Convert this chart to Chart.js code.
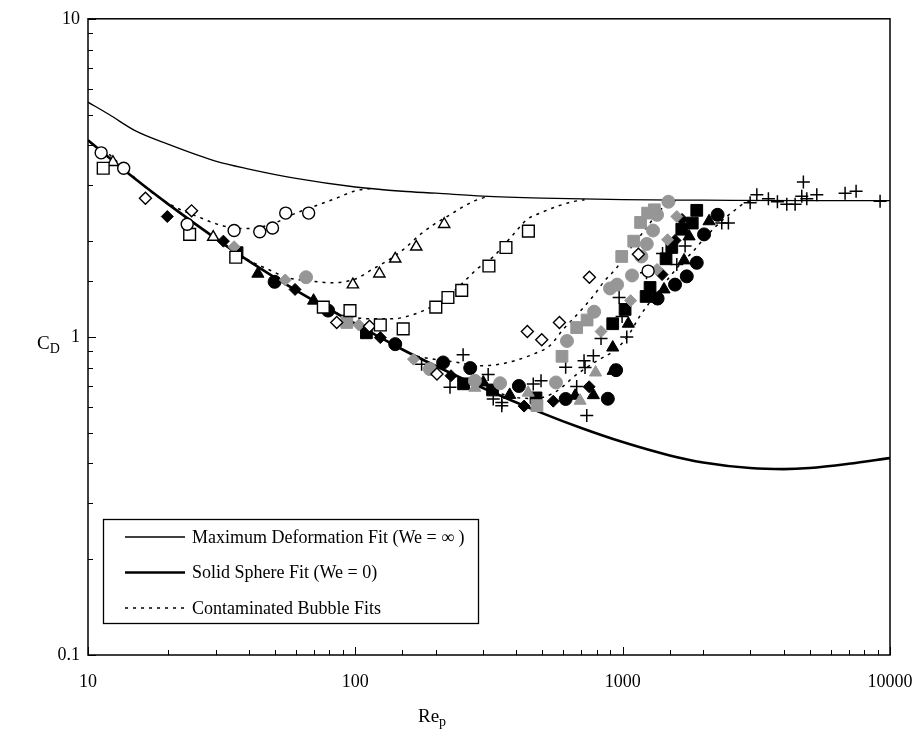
<!DOCTYPE html>
<html>
<head>
<meta charset="utf-8">
<title>Drag coefficient vs particle Reynolds number</title>
<script src="https://cdn.jsdelivr.net/npm/chart.js@4.4.0/dist/chart.umd.min.js"></script>
<style>
  html, body { margin: 0; padding: 0; background: #fff; }
  #wrap { width: 924px; height: 734px; }
</style>
</head>
<body>
<div id="wrap"><canvas id="cd" width="924" height="734"></canvas></div>
<script>
// values, [Re_p, C_D]
const openCircles = [[11.2,3.79],[13.6,3.39],[23.5,2.26],[35.2,2.16],[43.9,2.14],[49.0,2.20],[54.9,2.45],[66.9,2.45],[1245,1.61]];
const openSquares = [[11.4,3.39],[24.0,2.10],[35.7,1.78],[75.9,1.24],[95.5,1.21],[124,1.09],[151,1.06],[200,1.24],[222,1.33],[250,1.40],[316,1.67],[366,1.91],[444,2.15]];
const openTriangles = [[12.4,3.54],[29.4,2.06],[97.9,1.46],[123,1.58],[141,1.76],[169,1.92],[215,2.26]];
const openDiamonds = [[16.4,2.73],[24.4,2.49],[85.2,1.11],[113,1.08],[202,0.764],[440,1.04],[498,0.980],[580,1.11],[751,1.54],[1145,1.82]];
const blackDiamonds = [[19.8,2.39],[32.1,2.00],[59.5,1.41],[124,0.995],[228,0.755],[428,0.606],[550,0.628],[749,0.697],[1404,1.57],[1570,2.01],[1668,2.34]];
const grayDiamonds = [[35.2,1.92],[54.7,1.51],[103,1.09],[165,0.851],[830,1.04],[1071,1.30],[1345,1.63],[1472,2.02],[1594,2.39]];
const blackSquares = [[36.1,1.84],[110,1.03],[254,0.712],[326,0.681],[474,0.643],[918,1.10],[1021,1.22],[1224,1.34],[1266,1.43],[1453,1.76],[1527,1.91],[1664,2.18],[1821,2.28],[1893,2.50]];
const graySquares = [[92.9,1.11],[478,0.608],[593,0.869],[673,1.07],[736,1.13],[992,1.79],[1100,2.00],[1167,2.29],[1240,2.45],[1314,2.51]];
const blackCircles = [[49.9,1.49],[79.1,1.21],[141,0.949],[213,0.831],[269,0.798],[409,0.701],[612,0.638],[880,0.639],[945,0.786],[1351,1.32],[1570,1.46],[1737,1.55],[1893,1.71],[2016,2.10],[2265,2.42]];
const grayCircles = [[65.4,1.54],[190,0.792],[280,0.728],[348,0.715],[563,0.719],[619,0.971],[782,1.20],[897,1.42],[953,1.46],[1084,1.56],[1175,1.79],[1231,1.96],[1299,2.16],[1345,2.42],[1483,2.66]];
const blackTriangles = [[43.2,1.58],[69.8,1.30],[301,0.719],[378,0.657],[664,0.653],[777,0.656],[918,0.926],[921,0.782],[1050,1.10],[1428,1.41],[1697,1.74],[1772,2.07],[2105,2.31]];
const grayTriangles = [[280,0.692],[443,0.668],[693,0.630],[792,0.773]];
const crosses = [[177,0.821],[226,0.695],[253,0.878],[314,0.762],[328,0.638],[353,0.622],[353,0.608],[463,0.711],[495,0.728],[612,0.803],[717,0.841],[777,0.872],[723,0.801],[673,0.698],[734,0.566],[830,0.989],[1036,0.999],[995,1.16],[970,1.33],[1228,1.59],[1410,1.83],[1594,1.69],[1712,1.93],[2348,2.28],[2486,2.28],[2998,2.64],[3176,2.80],[3509,2.72],[3792,2.66],[4111,2.61],[4416,2.61],[4677,2.77],[4742,3.07],[4884,2.72],[5323,2.80],[6792,2.83],[7467,2.87],[9181,2.67]];

// fitted curves
const maxDeformation = [[10,5.47],[12,5.0],[15,4.45],[20,4.03],[30,3.57],[40,3.37],[60,3.15],[100,2.96],[150,2.87],[200,2.83],[300,2.77],[500,2.73],[1000,2.70],[2000,2.69],[5000,2.68],[10000,2.68]];
const solidSphere = [[10,4.15],[15,3.14],[20,2.61],[30,2.04],[40,1.73],[60,1.40],[100,1.10],[150,0.913],[200,0.81],[300,0.691],[500,0.576],[700,0.517],[1000,0.467],[1500,0.424],[2000,0.403],[3000,0.387],[4000,0.384],[5000,0.387],[7000,0.399],[10000,0.416]];
const bubbleFit1 = [[12,3.75],[15,3.16],[18,2.78],[22,2.52],[26,2.38],[30,2.27],[35,2.20],[40,2.19],[45,2.22],[50,2.28],[60,2.45],[70,2.57],[85,2.73],[100,2.88],[115,2.93]];
const bubbleFit2 = [[35,1.87],[40,1.74],[48,1.62],[55,1.54],[68,1.50],[80,1.48],[100,1.52],[117,1.64],[131,1.73],[151,1.88],[175,2.10],[197,2.26],[226,2.42],[254,2.57],[277,2.67],[310,2.76]];
const bubbleFit3 = [[70,1.30],[85,1.19],[100,1.15],[117,1.14],[139,1.14],[156,1.16],[180,1.21],[210,1.30],[235,1.40],[261,1.52],[284,1.63],[329,1.79],[390,2.10],[439,2.34],[491,2.45],[566,2.57],[650,2.66],[720,2.70]];
const bubbleFit4 = [[150,0.913],[165,0.877],[193,0.853],[242,0.831],[293,0.811],[348,0.821],[401,0.845],[463,0.883],[535,0.94],[601,1.06],[659,1.15],[722,1.25],[790,1.37],[850,1.49],[950,1.65],[1050,1.86],[1160,2.07],[1280,2.31],[1380,2.50],[1480,2.63],[1600,2.69]];
const bubbleFit5 = [[330,0.672],[400,0.645],[470,0.64],[540,0.66],[600,0.70],[650,0.745],[715,0.79],[800,0.84],[920,0.90],[1000,0.96],[1065,1.03],[1150,1.15],[1250,1.27],[1360,1.39],[1505,1.55],[1650,1.70],[1815,1.84],[1980,2.00],[2200,2.20],[2420,2.37],[2640,2.51],[2805,2.61],[3050,2.68]];

const legendLabels = ['Maximum Deformation Fit (We = \u221E )', 'Solid Sphere Fit (We = 0)', 'Contaminated Bubble Fits'];
const xTickLabels = [10, 100, 1000, 10000];
const yTickLabels = [0.1, 1, 10];

const FONT = "'Liberation Serif', 'Times New Roman', serif";
const GRAY = '#969696';
const DOTS = [3, 5];

const pts = arr => arr.map(([x, y]) => ({ x, y }));

function markers(label, data, style, radius, fill, stroke, bw) {
    return {
        label, data: pts(data), order: 1,
        pointStyle: style, pointRadius: radius,
        backgroundColor: fill, borderColor: stroke, borderWidth: bw
    };
}

function curve(label, data, width, dash) {
    return {
        label, data: pts(data), order: 2, showLine: true,
        pointRadius: 0, borderColor: '#000', borderWidth: width,
        borderDash: dash, cubicInterpolationMode: 'monotone', fill: false
    };
}

const datasets = [
    markers('open circles', openCircles, 'circle', 6, '#fff', '#000', 1.4),
    markers('open squares', openSquares, 'rect', 8.3, '#fff', '#000', 1.4),
    markers('open triangles', openTriangles, 'triangle', 6.5, '#fff', '#000', 1.4),
    markers('open diamonds', openDiamonds, 'rectRot', 6, '#fff', '#000', 1.4),
    markers('gray diamonds', grayDiamonds, 'rectRot', 6, GRAY, GRAY, 1),
    markers('gray squares', graySquares, 'rect', 8.3, GRAY, GRAY, 1),
    markers('gray circles', grayCircles, 'circle', 6.5, GRAY, GRAY, 1),
    markers('gray triangles', grayTriangles, 'triangle', 7, GRAY, GRAY, 1),
    markers('black diamonds', blackDiamonds, 'rectRot', 6, '#000', '#000', 1),
    markers('black squares', blackSquares, 'rect', 8.3, '#000', '#000', 1),
    markers('black circles', blackCircles, 'circle', 6.5, '#000', '#000', 1),
    markers('black triangles', blackTriangles, 'triangle', 7, '#000', '#000', 1),
    markers('crosses', crosses, 'cross', 6.5, '#000', '#000', 1.5),
    curve(legendLabels[0], maxDeformation, 1.3, []),
    curve(legendLabels[1], solidSphere, 2.6, []),
    curve(legendLabels[2], bubbleFit1, 1.5, DOTS),
    curve(legendLabels[2], bubbleFit2, 1.5, DOTS),
    curve(legendLabels[2], bubbleFit3, 1.5, DOTS),
    curve(legendLabels[2], bubbleFit4, 1.5, DOTS),
    curve(legendLabels[2], bubbleFit5, 1.5, DOTS)
];

const isDecade = v => Math.abs(Math.log10(v) - Math.round(Math.log10(v))) < 1e-9;

// box around the plot, inward ticks, axis titles with subscripts, legend
const decorations = {
    id: 'decorations',
    afterDraw(chart) {
        const { ctx, chartArea: a, scales } = chart;
        ctx.save();
        ctx.strokeStyle = '#000';
        ctx.lineWidth = 1.5;
        ctx.strokeRect(a.left, a.top, a.right - a.left, a.bottom - a.top);

        ctx.lineWidth = 1;
        ctx.beginPath();
        scales.x.ticks.forEach(t => {
            const px = Math.round(scales.x.getPixelForValue(t.value)) + 0.5;
            const len = isDecade(t.value) ? 8 : 5;
            ctx.moveTo(px, a.bottom);
            ctx.lineTo(px, a.bottom - len);
        });
        scales.y.ticks.forEach(t => {
            const py = Math.round(scales.y.getPixelForValue(t.value)) + 0.5;
            const len = isDecade(t.value) ? 8 : 5;
            ctx.moveTo(a.left, py);
            ctx.lineTo(a.left + len, py);
        });
        ctx.stroke();

        // axis titles
        ctx.fillStyle = '#000';
        ctx.textBaseline = 'alphabetic';
        ctx.textAlign = 'left';
        ctx.font = '19px ' + FONT;
        const reW = ctx.measureText('Re').width;
        ctx.fillText('Re', 418, 722);
        ctx.font = '14px ' + FONT;
        ctx.fillText('p', 418 + reW, 726);

        ctx.font = '19px ' + FONT;
        const cW = ctx.measureText('C').width;
        ctx.fillText('C', 37, 349);
        ctx.font = '14px ' + FONT;
        ctx.fillText('D', 37 + cW, 353);

        // legend
        const box = { x: 103, y: 519, w: 375, h: 104 };
        ctx.fillStyle = '#fff';
        ctx.fillRect(box.x, box.y, box.w, box.h);
        ctx.lineWidth = 1.3;
        ctx.strokeRect(box.x + 0.5, box.y + 0.5, box.w, box.h);
        const rows = [datasets[13], datasets[14], datasets[15]];
        ctx.font = '18px ' + FONT;
        ctx.textBaseline = 'middle';
        rows.forEach((ds, i) => {
            const y = 537 + i * 35.5;
            ctx.strokeStyle = '#000';
            ctx.lineWidth = ds.borderWidth;
            ctx.setLineDash(ds.borderDash);
            ctx.beginPath();
            ctx.moveTo(125, y);
            ctx.lineTo(185, y);
            ctx.stroke();
            ctx.setLineDash([]);
            ctx.fillStyle = '#000';
            ctx.fillText(ds.label, 192, y + 1);
        });
        ctx.restore();
    }
};

new Chart(document.getElementById('cd'), {
    type: 'scatter',
    data: { datasets },
    options: {
        responsive: false,
        animation: false,
        events: [],
        layout: { padding: { left: 0, top: 17, right: 34, bottom: 0 } },
        plugins: { legend: { display: false }, tooltip: { enabled: false } },
        scales: {
            x: {
                type: 'logarithmic', min: 10, max: 10000,
                grid: { display: false, drawTicks: false },
                border: { display: false },
                afterFit: s => { s.height = 79; s.paddingLeft = 0; s.paddingRight = 0; },
                ticks: {
                    autoSkip: false, maxRotation: 0, padding: 16,
                    color: '#000', font: { family: FONT, size: 18 },
                    callback: v => xTickLabels.includes(v) ? String(v) : ''
                }
            },
            y: {
                type: 'logarithmic', min: 0.1, max: 10,
                grid: { display: false, drawTicks: false },
                border: { display: false },
                afterFit: s => { s.width = 88; },
                ticks: {
                    autoSkip: false, padding: 8,
                    color: '#000', font: { family: FONT, size: 18 },
                    callback: v => yTickLabels.some(t => Math.abs(t - v) < 1e-9) ? String(v) : ''
                }
            }
        }
    },
    plugins: [decorations]
});
</script>
</body>
</html>
